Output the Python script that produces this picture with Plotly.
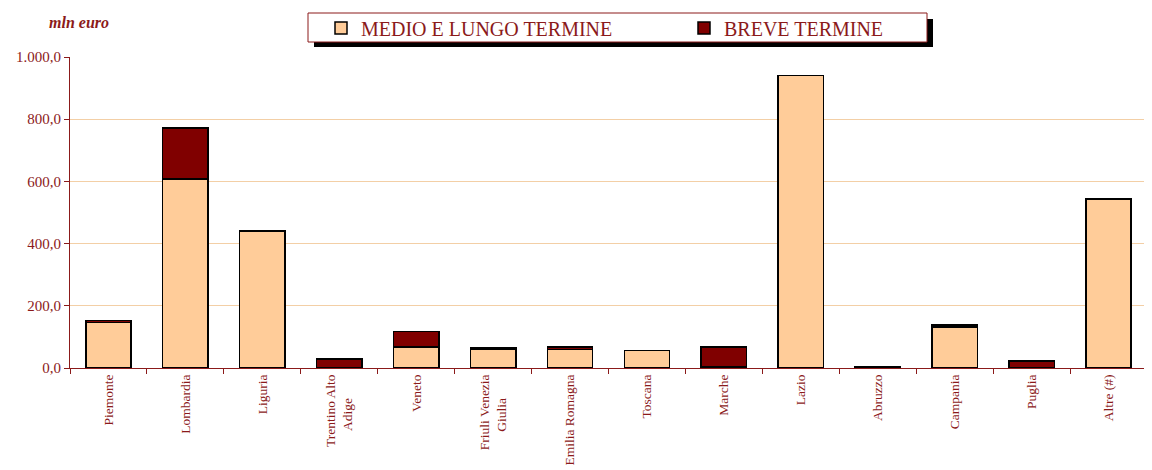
import plotly.graph_objects as go

NB = "\u00a0"
categories = ["Piemonte", "Lombardia", "Liguria", "Trentino Alto<br>Adige" + NB * 7, "Veneto",
              "Friuli Venezia<br>Giulia" + NB * 7, "Emilia Romagna", "Toscana", "Marche", "Lazio",
              "Abruzzo", "Campania", "Puglia", "Altre (#)"]
medio_lungo = [146, 608, 440, 0, 68, 61, 59, 56, 3, 940, 2, 132, 0, 543]
breve = [6, 164, 0, 29, 49, 4, 9, 0, 65, 0, 2, 6, 22, 0]
series_names = ["MEDIO E LUNGO TERMINE", "BREVE TERMINE"]
y_ticks = [0, 200, 400, 600, 800, 1000]
y_ticklabels = ["0,0", "200,0", "400,0", "600,0", "800,0", "1.000,0"]

RED = "#8B1A1A"
FONT = "Liberation Serif"

fig = go.Figure()
fig.add_trace(go.Bar(x=categories, y=medio_lungo, name=series_names[0],
                     marker=dict(color="#FFCC99", line=dict(color="black", width=1.5))))
fig.add_trace(go.Bar(x=categories, y=breve, name=series_names[1],
                     marker=dict(color="#800000", line=dict(color="black", width=1.5))))

# page body has an 8px default margin; work in window pixels
OFF = 8
W, H = 1152 - OFF, 470 - OFF
L, R, T, B = 70 - OFF, 5, 57 - OFF, 102
pw, ph = W - L - R, H - T - B

def px(xw):
    return (xw - OFF - L) / pw

def py(yw):
    return (H - B - (yw - OFF)) / ph

shapes = [
    dict(type="rect", xref="paper", yref="paper", x0=px(314), x1=px(933), y0=py(47), y1=py(19),
         fillcolor="black", line=dict(width=0), layer="above"),
    dict(type="rect", xref="paper", yref="paper", x0=px(308), x1=px(927), y0=py(42), y1=py(13),
         fillcolor="white", line=dict(color=RED, width=1), layer="above"),
]

fig.update_layout(
    barmode="stack",
    bargap=0.41,
    width=W, height=H,
    margin=dict(l=L, r=R, t=T, b=B, autoexpand=False),
    plot_bgcolor="white", paper_bgcolor="white",
    font=dict(family=FONT, color=RED),
    shapes=shapes,
    legend=dict(orientation="h", x=px(321), y=py(28), xanchor="left", yanchor="middle",
                font=dict(size=20, color=RED, family=FONT), bgcolor="rgba(0,0,0,0)",
                entrywidth=318, entrywidthmode="pixels", itemwidth=30, traceorder="normal"),
    annotations=[dict(text="<b><i>mln euro</i></b>", xref="paper", yref="paper",
                      x=px(47), y=py(22), xanchor="left", yanchor="middle", showarrow=False,
                      font=dict(size=16, color=RED, family=FONT))],
    xaxis=dict(type="category", showline=True, linecolor=RED, linewidth=1,
               ticks="outside", tickson="boundaries", ticklen=5, tickcolor=RED,
               tickangle=-90, tickfont=dict(size=13.5, color=RED), showgrid=False,
               automargin=False),
    yaxis=dict(range=[0, 1000], tickvals=y_ticks, ticktext=y_ticklabels,
               showline=True, linecolor=RED, linewidth=1, ticks="outside", ticklen=5,
               tickcolor=RED, tickfont=dict(size=15, color=RED),
               showgrid=True, gridcolor="#F3CFA6", gridwidth=1, zeroline=False,
               automargin=False),
)

fig.write_html("out.html")
